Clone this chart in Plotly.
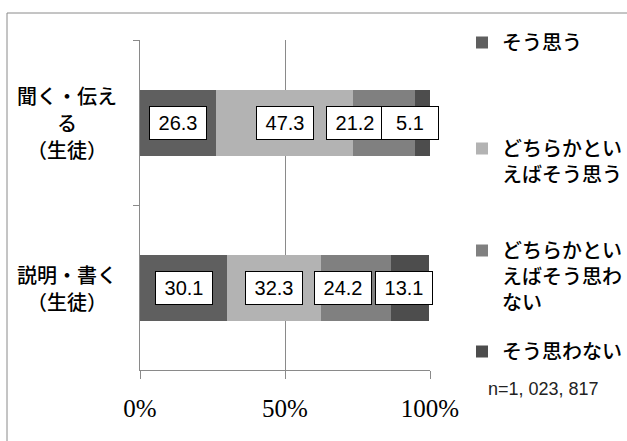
import plotly.graph_objects as go

# Survey categories (top to bottom) and response shares in percent
categories = ["聞く・伝える（生徒）", "説明・書く（生徒）"]
category_lines = [["聞く・伝え", "る", "（生徒）"], ["説明・書く", "（生徒）"]]
series_names = ["そう思う", "どちらかとい<br>えばそう思う", "どちらかとい<br>えばそう思わ<br>ない", "そう思わない"]
series_values = [
    [26.3, 30.1],   # そう思う
    [47.3, 32.3],   # どちらかといえばそう思う
    [21.2, 24.2],   # どちらかといえばそう思わない
    [5.1, 13.1],    # そう思わない
]
x_ticks = [0, 50, 100]
x_tick_labels = ["0%", "50%", "100%"]
sample_note = "n=1, 023, 817"

colors = ["#5f5f5f", "#b3b3b3", "#808080", "#4d4d4d"]
# horizontal nudges (px) applied to value labels so the boxes do not collide
label_nudge = [
    [0, 0],
    [0, 0],
    [-29, -13],
    [-12, -6],
]

W, H = 627, 441
M_L, M_R, M_T, M_B = 140, 197, 40, 71
plot_w, plot_h = W - M_L - M_R, H - M_T - M_B
LINE_STEP = 27  # px between lines of a category label
JP_FONT = dict(family="Noto Sans CJK JP", size=20, color="#000000", weight=500)


def px_x(px):
    return (px - M_L) / plot_w


def px_y(py):
    return (H - M_B - py) / plot_h


legend_ids = ["legend", "legend2", "legend3", "legend4"]
legend_tops = [23, 129, 231, 332]

fig = go.Figure()
for name, vals, col, lid in zip(series_names, series_values, colors, legend_ids):
    fig.add_trace(go.Bar(
        y=categories, x=vals, name=name, orientation="h",
        marker=dict(color=col, line=dict(width=0)),
        legend=lid, hoverinfo="x+y",
    ))

# value boxes centred on each segment
for si, vals in enumerate(series_values):
    for ci, v in enumerate(vals):
        start = sum(series_values[k][ci] for k in range(si))
        fig.add_annotation(
            x=start + v / 2, y=categories[ci], xref="x", yref="y",
            text=f"{v:.1f}", showarrow=False,
            xshift=label_nudge[si][ci],
            font=dict(family="Liberation Sans, Arial", size=20, color="#000000"),
            bgcolor="#ffffff", bordercolor="#000000", borderwidth=1,
            width=54, height=30, borderpad=1,
        )

# category labels, each line centred to the left of the axis
for ci, lines in enumerate(category_lines):
    n = len(lines)
    for li, line in enumerate(lines):
        fig.add_annotation(
            x=px_x(67), y=categories[ci], xref="paper", yref="y",
            yshift=((n - 1) / 2 - li) * LINE_STEP,
            text=line, showarrow=False,
            xanchor="center", yanchor="middle",
            font=JP_FONT,
        )

fig.add_annotation(
    x=px_x(486), y=px_y(389), xref="paper", yref="paper", text=sample_note,
    showarrow=False, xanchor="left", yanchor="middle",
    font=dict(family="Liberation Sans Narrow, Liberation Sans", size=18, color="#222222"),
)

legend_style = dict(
    xanchor="left", yanchor="top", valign="top", itemwidth=30,
    bgcolor="rgba(0,0,0,0)",
    font=JP_FONT,
)
layout_legends = {}
for lid, top in zip(legend_ids, legend_tops):
    layout_legends[lid] = dict(x=px_x(462), y=px_y(top), **legend_style)

fig.update_layout(
    width=W, height=H,
    margin=dict(l=M_L, r=M_R, t=M_T, b=M_B, autoexpand=False),
    paper_bgcolor="#ffffff", plot_bgcolor="#ffffff",
    barmode="stack", bargap=0.6,
    showlegend=True,
    xaxis=dict(
        range=[0, 100], tickvals=x_ticks, ticktext=x_tick_labels,
        showgrid=True, gridcolor="#8a8a8a", gridwidth=1,
        zeroline=False, showline=True, linecolor="#8a8a8a", linewidth=1,
        ticks="outside", ticklen=8, tickcolor="#8a8a8a", ticklabelstandoff=8,
        tickfont=dict(family="Liberation Serif, Times New Roman, serif", size=25, color="#000000"),
        fixedrange=True,
    ),
    yaxis=dict(
        autorange="reversed", type="category",
        showline=True, linecolor="#8a8a8a", linewidth=1,
        ticks="outside", ticklen=6, tickcolor="#8a8a8a", tickson="boundaries",
        showgrid=False, showticklabels=False,
        fixedrange=True,
    ),
    **layout_legends,
)

# outer frame of the chart
fig.add_shape(
    type="rect", xref="paper", yref="paper",
    x0=px_x(7), x1=px_x(640), y0=px_y(460), y1=px_y(13),
    line=dict(color="#8a8a8a", width=1), fillcolor="rgba(0,0,0,0)", layer="below",
)

fig.write_html("out.html")
